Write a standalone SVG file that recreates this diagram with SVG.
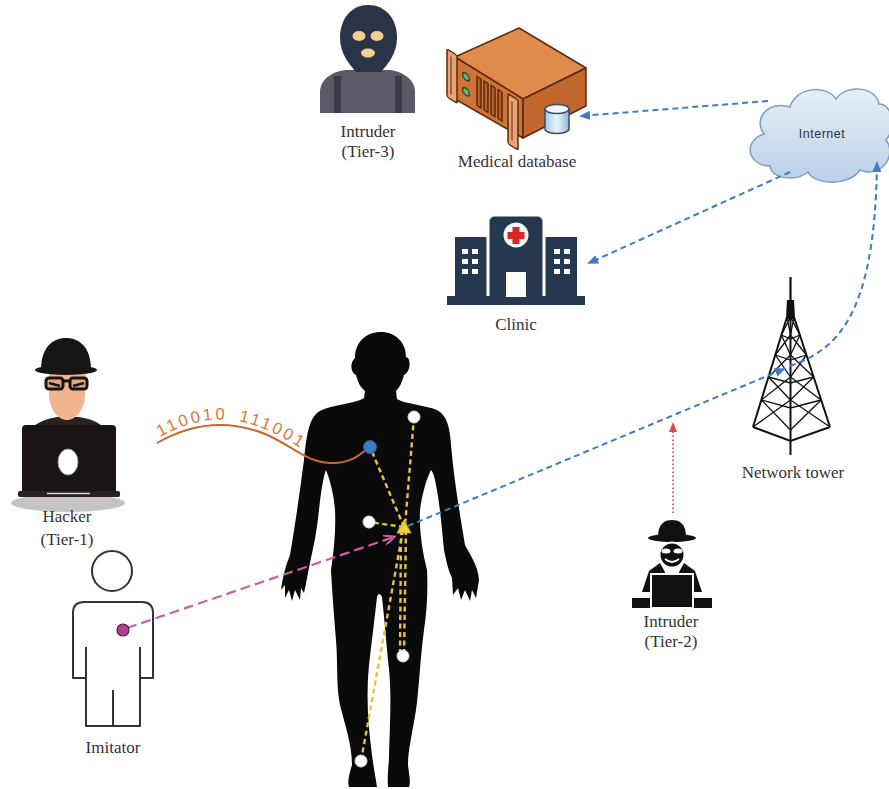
<svg xmlns="http://www.w3.org/2000/svg" width="889" height="789" viewBox="0 0 889 789">
  <style>
    .label { font-family: "Liberation Serif", "Times New Roman", serif; font-size: 17px; fill: #333; text-anchor: middle; }
    .blue { fill: none; stroke: #3f7cc4; stroke-width: 2; stroke-dasharray: 6 4; }
    .yellow { fill: none; stroke: #e6c53c; stroke-width: 2.4; stroke-dasharray: 5 3.5; }
    .pink { fill: none; stroke: #cc5fa6; stroke-width: 2.2; stroke-dasharray: 10 5; }
    .red { fill: none; stroke: #e04848; stroke-width: 1.6; stroke-dasharray: 1.5 2.5; }
    .node { fill: #fff; stroke: #ddd; stroke-width: 1; }
    .brace { fill: none; stroke: #111; stroke-width: 1.3; }
  </style>
  <defs>
    <marker id="arrowBlue" markerWidth="11" markerHeight="9" refX="9" refY="4.5" orient="auto" markerUnits="userSpaceOnUse">
      <path d="M0,0 L11,4.5 L0,9 Z" fill="#3f7cc4"/>
    </marker>
    <marker id="arrowPink" markerWidth="12" markerHeight="10" refX="10" refY="5" orient="auto" markerUnits="userSpaceOnUse">
      <path d="M0,0 L11,5 L0,10" fill="none" stroke="#cc5fa6" stroke-width="2"/>
    </marker>
    <marker id="arrowRed" markerWidth="10" markerHeight="8" refX="8" refY="4" orient="auto" markerUnits="userSpaceOnUse">
      <path d="M0,0 L10,4 L0,8 Z" fill="#e04848"/>
    </marker>
    <linearGradient id="cloudFill" x1="0" y1="0" x2="0" y2="1">
      <stop offset="0" stop-color="#e6eff8"/>
      <stop offset="1" stop-color="#b9d0e8"/>
    </linearGradient>
    <linearGradient id="cylFill" x1="0" y1="0" x2="1" y2="0">
      <stop offset="0" stop-color="#a9c8e6"/>
      <stop offset="0.5" stop-color="#eaf3fb"/>
      <stop offset="1" stop-color="#8fb3d8"/>
    </linearGradient>
  </defs>

  <rect width="889" height="789" fill="#fff"/>

  <!-- Intruder (Tier-3): balaclava figure -->
  <g id="intruder-tier3">
    <path d="M320 113 L320 92 C320 80 331 72 345 70 L390 70 C404 72 415 80 415 92 L415 113 Z" fill="#5b5868"/>
    <rect x="334" y="76" width="7" height="37" fill="#3c3a4a"/>
    <rect x="395" y="76" width="7" height="37" fill="#3c3a4a"/>
    <path d="M368 5 C352 5 340 18 340 38 C340 53 349 64 356 72 L381 72 C388 64 397 53 397 38 C397 18 385 5 368 5 Z" fill="#2b3446"/>
    <ellipse cx="359" cy="36" rx="6.5" ry="5" fill="#f3cf93"/>
    <ellipse cx="377" cy="36" rx="6.5" ry="5" fill="#f3cf93"/>
    <ellipse cx="368" cy="53" rx="7" ry="4.5" fill="#f3cf93"/>
    <text class="label" x="368" y="137">Intruder</text>
    <text class="label" x="368" y="157">(Tier-3)</text>
  </g>

  <!-- Medical database: rack server with storage cylinder -->
  <g id="medical-database" stroke="#5a2a10" stroke-width="1.5" stroke-linejoin="round">
    <polygon points="455,57 519,28 586,68 523,99" fill="#e08a4c"/>
    <polygon points="455,57 523,99 523,138 455,99" fill="#cf7438"/>
    <polygon points="523,99 586,68 586,106 523,138" fill="#c0662e"/>
    <g transform="matrix(1 0.618 0 1 455 57)">
      <rect x="-8" y="-3" width="10" height="48" rx="2" fill="#eaa274"/>
      <line x1="-4" y1="2" x2="-4" y2="40" stroke-width="1"/>
      <circle cx="11" cy="13" r="3.5" fill="#6cb27a" stroke="#2f4a30"/>
      <circle cx="11" cy="28" r="3.5" fill="#6cb27a" stroke="#2f4a30"/>
      <rect x="22" y="6" width="4" height="29" fill="#b45e2a"/>
      <rect x="29" y="6" width="4" height="29" fill="#b45e2a"/>
      <rect x="36" y="6" width="4" height="29" fill="#b45e2a"/>
      <rect x="43" y="6" width="4" height="29" fill="#b45e2a"/>
      <rect x="53" y="4" width="10" height="50" rx="2" fill="#eaa274"/>
      <line x1="57" y1="9" x2="57" y2="48" stroke-width="1"/>
    </g>
    <path d="M545 109 V129 A12 4.5 0 0 0 569 129 V109" fill="url(#cylFill)" stroke="#33506e"/>
    <ellipse cx="557" cy="109" rx="12" ry="4.5" fill="#eef5fb" stroke="#33506e"/>
    <text class="label" x="517" y="167" stroke="none">Medical database</text>
  </g>

  <!-- Internet cloud -->
  <g id="internet">
    <path d="M770 166 C748 166 742 141 764 134 C752 118 770 100 790 107 C796 87 826 84 836 99 C846 84 876 86 879 104 C893 104 896 129 886 140 C898 156 880 179 860 170 C850 186 815 186 808 172 C795 182 772 179 770 166 Z" fill="url(#cloudFill)" stroke="#7d9fc4" stroke-width="1.5"/>
    <text x="822" y="138" font-family="Liberation Sans, Arial, sans-serif" font-size="12.5" letter-spacing="0.5" fill="#333" text-anchor="middle">Internet</text>
  </g>

  <!-- Clinic building -->
  <g id="clinic" fill="#26384f">
    <rect x="455" y="237" width="34" height="62"/>
    <rect x="543" y="237" width="34" height="62"/>
    <path d="M488 299 V222 Q488 215 495 215 H537 Q544 215 544 222 V299 Z" stroke="#fff" stroke-width="3"/>
    <rect x="447" y="296" width="138" height="9"/>
    <circle cx="516" cy="235" r="12.5" fill="#f2faf6"/>
    <rect x="512.5" y="227" width="7" height="17" fill="#d8262b"/>
    <rect x="507.5" y="232" width="17" height="7" fill="#d8262b"/>
    <rect x="506" y="272" width="20" height="25" fill="#fff"/>
    <g fill="#fff">
      <rect x="462" y="249" width="6" height="5"/><rect x="472" y="249" width="6" height="5"/>
      <rect x="462" y="259" width="6" height="5"/><rect x="472" y="259" width="6" height="5"/>
      <rect x="462" y="269" width="6" height="5"/><rect x="472" y="269" width="6" height="5"/>
      <rect x="554" y="249" width="6" height="5"/><rect x="564" y="249" width="6" height="5"/>
      <rect x="554" y="259" width="6" height="5"/><rect x="564" y="259" width="6" height="5"/>
      <rect x="554" y="269" width="6" height="5"/><rect x="564" y="269" width="6" height="5"/>
    </g>
    <text class="label" x="516" y="330">Clinic</text>
  </g>

  <!-- Hacker (Tier-1) at a laptop -->
  <g id="hacker">
    <ellipse cx="68" cy="503" rx="57" ry="9" fill="#c4c4c4"/>
    <path d="M28 432 C36 421 50 418 58 417 L78 417 C87 418 100 421 108 432 Z" fill="#2a2222"/>
    <path d="M49 368 L86 368 L85 396 C84 410 76 420 67 420 C58 420 50 410 49 396 Z" fill="#f2b48c"/>
    <path d="M41 370 C41 348 52 338 66 338 C80 338 91 348 91 370 Z" fill="#151515"/>
    <ellipse cx="66" cy="370" rx="31" ry="5" fill="#151515"/>
    <g fill="#e8a784" stroke="#151515" stroke-width="3">
      <rect x="46" y="378" width="17" height="11" rx="3"/>
      <rect x="70" y="378" width="17" height="11" rx="3"/>
    </g>
    <path d="M63 381 L70 381" stroke="#151515" stroke-width="3"/>
    <path d="M49 383 L60 386 M73 386 L84 383" stroke="#151515" stroke-width="2.5"/>
    <rect x="22" y="425" width="94" height="70" rx="4" fill="#1b1414"/>
    <rect x="18" y="491" width="102" height="6" rx="2" fill="#2a2020"/>
    <line x1="47" y1="493.5" x2="90" y2="493.5" stroke="#d8d8d8" stroke-width="1.5"/>
    <ellipse cx="68" cy="462" rx="10" ry="13" fill="#fff" stroke="#9a9a9a" stroke-width="1"/>
    <text class="label" x="67" y="522">Hacker</text>
    <text class="label" x="67" y="545">(Tier-1)</text>
  </g>

  <!-- Imitator outline figure -->
  <g id="imitator" fill="none" stroke="#333" stroke-width="2" stroke-linejoin="round">
    <circle cx="112" cy="571" r="20" fill="#fff"/>
    <path d="M86 678 L73 678 L73 613 Q73 602 84 602 L142 602 Q153 602 153 613 L153 678 L140 678" fill="#fff"/>
    <path d="M86 647 L86 726 L140 726 L140 647"/>
    <path d="M113 690 L113 726"/>
    <text class="label" x="113" y="753" stroke="none">Imitator</text>
  </g>

  <!-- Patient body silhouette -->
  <g id="patient">
    <path fill="#0a0a0a" d="M381 332 C395 332 406 342 406 357 L408 358 C411 362 410 372 404 375 C402 383 399 388 396 391 L397 399 C405 404 425 405 437 410 C447 415 450 428 451 445 C454 480 460 515 465 545 C470 555 478 565 479 580 L476 598 L472 590 L470 601 L465 590 L461 600 L458 588 L453 595 L452 578 C448 570 446 560 444 550 C442 530 440 505 436 485 C435 478 433 472 431 470 C426 480 422 495 420 510 C419 530 422 550 427 570 C428 590 427 610 424 630 C420 660 419 690 416 710 C412 735 408 750 408 765 C409 775 411 782 409 787 L388 787 C387 775 389 765 389 755 C390 720 392 690 388 660 C386 640 384 615 382 597 C380 593 378 593 377 597 C375 615 372 640 369 665 C366 695 368 725 372 755 C374 770 376 780 377 787 L349 787 C347 780 350 772 352 765 C352 745 345 725 340 705 C336 685 338 665 336 640 C334 615 332 590 331 570 C334 550 336 530 335 510 C334 495 330 480 326 470 C323 478 321 492 319 510 C317 530 314 545 311 558 C308 572 306 585 304 593 L301 588 L300 600 L295 590 L292 601 L289 590 L285 598 L285 585 L281 590 C283 575 286 565 290 555 C296 520 300 490 304 460 C307 430 310 415 322 410 C335 404 355 404 364 398 L365 391 C361 388 358 383 356 375 C350 372 350 362 355 358 C355 342 366 332 381 332 Z"/>
  </g>

  <!-- Intruder (Tier-2) at a laptop -->
  <g id="intruder-tier2" fill="#111">
    <path d="M658 537 C658 524 664 520 672 520 C680 520 686 524 686 537 Z"/>
    <ellipse cx="672" cy="538" rx="24" ry="4"/>
    <path d="M642 592 L649 571 L660 563 L667 576 L677 576 L684 563 L695 571 L702 592 Z"/>
    <circle cx="672" cy="555" r="12.5" stroke="#fff" stroke-width="2"/>
    <ellipse cx="666" cy="551" rx="4.5" ry="2.5" fill="#fff"/>
    <ellipse cx="678" cy="551" rx="4.5" ry="2.5" fill="#fff"/>
    <path d="M665 559 Q672 565 679 559" fill="none" stroke="#fff" stroke-width="1.8"/>
    <rect x="632" y="598" width="80" height="10"/>
    <rect x="651" y="574" width="42" height="34" stroke="#fff" stroke-width="2"/>
    <text class="label" x="671" y="627">Intruder</text>
    <text class="label" x="671" y="647">(Tier-2)</text>
  </g>

  <!-- Network tower lattice -->
  <g id="network-tower">
    <line x1="790.5" y1="277" x2="790.5" y2="301" stroke="#111" stroke-width="2.2"/>
    <polygon points="787,300 794,300 795,318 786,318" fill="#111"/>
    <g stroke="#111" stroke-width="2" fill="none">
      <path d="M787 317 L753 427"/>
      <path d="M794 317 L830 427"/>
      <path d="M790.5 317 L790.5 455"/>
      <path d="M753 427 L790.5 441 L830 427"/>
    </g>
    <path class="brace" d="M787 317 L790.5 320 L794 317 M781.4 335 L790.5 339 L799.9 335 M775.3 355 L790.5 360 L806.4 355 M768.5 377 L790.5 383 L813.6 377 M761.4 400 L790.5 408 L821.1 400"/>
    <path class="brace" d="M787 317 L790.5 335 M790.5 317 L781.4 335 M781.4 335 L790.5 355 M790.5 335 L775.3 355 M775.3 355 L790.5 377 M790.5 355 L768.5 377 M768.5 377 L790.5 400 M790.5 377 L761.4 400 M761.4 400 L790.5 430 M790.5 400 L753 427"/>
    <path class="brace" d="M794 317 L790.5 335 M790.5 317 L799.9 335 M799.9 335 L790.5 355 M790.5 335 L806.4 355 M806.4 355 L790.5 377 M790.5 355 L813.6 377 M813.6 377 L790.5 400 M790.5 377 L821.1 400 M821.1 400 L790.5 430 M790.5 400 L830 427"/>
    <text class="label" x="793" y="478">Network tower</text>
  </g>

  <!-- Connectors -->
  <g id="connectors">
    <path class="blue" d="M768 101 L581 116" marker-end="url(#arrowBlue)"/>
    <path class="blue" d="M790 172 L589 263" marker-end="url(#arrowBlue)"/>
    <path class="blue" d="M790 366 C835 350 875 320 877 163" marker-end="url(#arrowBlue)"/>
    <path class="blue" d="M408 526 L784 369" marker-end="url(#arrowBlue)"/>
    <path class="red" d="M673 513 L673 424" marker-end="url(#arrowRed)"/>
    <path class="pink" d="M127 628 L394 537" marker-end="url(#arrowPink)"/>

    <!-- body-area sensor links to the hub -->
    <path class="yellow" d="M404 527 L370 447"/>
    <path class="yellow" d="M414 417 L405 526"/>
    <path class="yellow" d="M404 527 L369 522"/>
    <path class="yellow" d="M406 530 L404 656"/>
    <path class="yellow" d="M401 530 L400 656"/>
    <path class="yellow" d="M403 530 L361 761"/>

    <!-- leaked bits from the chest sensor -->
    <path d="M157 443 C190 424 225 418 265 434 C290 444 305 462 330 463 C350 464 360 455 369 447" fill="none" stroke="#c8692a" stroke-width="2"/>
    <path id="bitsPath" d="M160 437 C192 419 226 413 262 428 C285 437 300 448 316 458" fill="none"/>
    <text font-family="Liberation Sans, Arial, sans-serif" font-size="16.5" letter-spacing="2.8" word-spacing="4" fill="#d9782e">
      <textPath href="#bitsPath">110010 111001</textPath>
    </text>
  </g>

  <!-- Body sensors and hub -->
  <g id="sensors">
    <circle cx="370" cy="447" r="6.5" fill="#3f7cc4" stroke="#2d5f9a" stroke-width="1"/>
    <circle class="node" cx="414" cy="417" r="6"/>
    <circle class="node" cx="369" cy="522" r="6"/>
    <circle class="node" cx="403" cy="656" r="6"/>
    <circle class="node" cx="361" cy="761" r="6"/>
    <circle cx="123" cy="630" r="6" fill="#b0408a" stroke="#5a1a4a" stroke-width="1.2"/>
    <polygon points="404,520 397,533 411,533" fill="#f3cf3c" stroke="#d6a82a" stroke-width="1"/>
  </g>
</svg>
